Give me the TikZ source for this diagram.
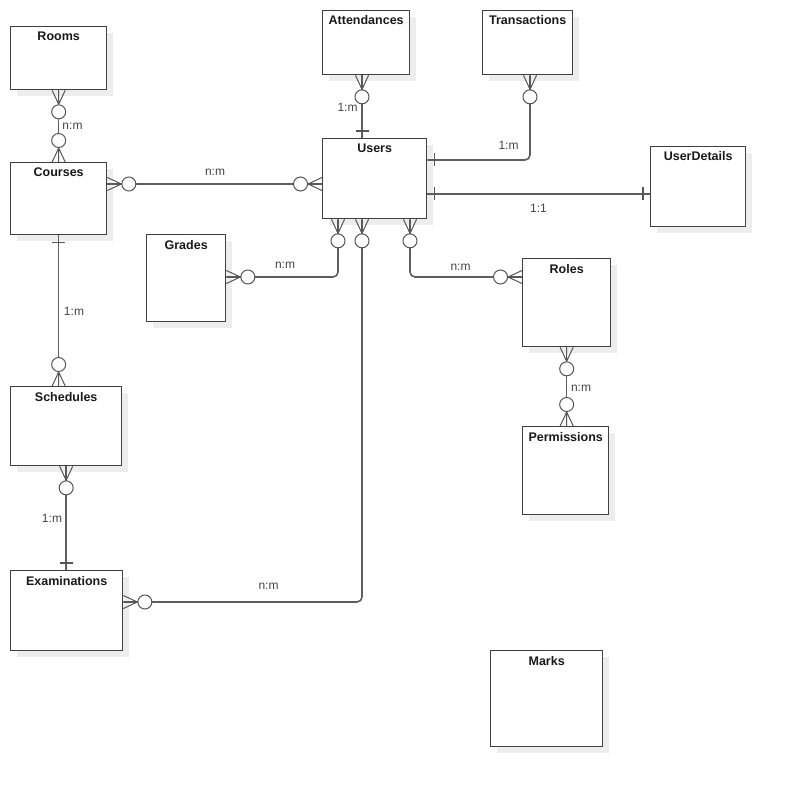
\documentclass[tikz,border=0pt]{standalone}
\usepackage{fontspec}
\setmainfont{Liberation Sans}
\usetikzlibrary{shadows,calc}
\definecolor{boxline}{HTML}{404040}
\definecolor{connline}{HTML}{5E5E5E}
\definecolor{markline}{HTML}{555555}
\definecolor{lbltext}{HTML}{444444}
\tikzset{
  entity/.style={draw=boxline, line width=1.35pt, fill=white, anchor=north west, inner sep=0pt,
    general shadow={fill=black!7, shadow xshift=6pt, shadow yshift=-6pt}},
  title/.style={anchor=base, inner sep=0pt, text=black!90, font=\fontsize{12.5}{14}\selectfont\bfseries},
  lbl/.style={anchor=base, inner sep=0pt, text=lbltext, font=\fontsize{12}{14}\selectfont},
  conn/.style={draw=connline, line width=1.6pt},
  endmark/.style={draw=markline, line width=1pt},
  crowring/.pic={
    \draw[endmark] (0,-6.5) -- (14,0) (0,0) -- (14,0) (0,6.5) -- (14,0);
    \draw[endmark, fill=white] (21.5,0) circle[radius=7pt];
  },
  onebar/.pic={\draw[endmark, line width=1.4pt] (7,-6.5) -- (7,6.5);},
}
\begin{document}
\begin{tikzpicture}[x=1pt, y=-1pt]
\useasboundingbox (0,0) rectangle (784,786);

% entities
\node[entity, minimum width=96pt, minimum height=63pt] (rooms) at (10,26) {};
\node[entity, minimum width=87pt, minimum height=64pt] (attendances) at (322,10) {};
\node[entity, minimum width=90pt, minimum height=64pt] (transactions) at (482,10) {};
\node[entity, minimum width=96pt, minimum height=72pt] (courses) at (10,162) {};
\node[entity, minimum width=104pt, minimum height=80pt] (users) at (322,138) {};
\node[entity, minimum width=95pt, minimum height=80pt] (userdetails) at (650,146) {};
\node[entity, minimum width=79pt, minimum height=87pt] (grades) at (146,234) {};
\node[entity, minimum width=88pt, minimum height=88pt] (roles) at (522,258) {};
\node[entity, minimum width=111pt, minimum height=79pt] (schedules) at (10,386) {};
\node[entity, minimum width=86pt, minimum height=88pt] (permissions) at (522,426) {};
\node[entity, minimum width=112pt, minimum height=80pt] (examinations) at (10,570) {};
\node[entity, minimum width=112pt, minimum height=96pt] (marks) at (490,650) {};

% entity titles
\foreach \n/\t in {rooms/Rooms, attendances/Attendances, transactions/Transactions,
  courses/Courses, users/Users, userdetails/UserDetails, grades/Grades, roles/Roles,
  schedules/Schedules, permissions/Permissions, examinations/Examinations, marks/Marks}
  \node[title] (\n-title) at ([yshift=-15pt]\n.north) {\t};

% connection points
\coordinate (ut)  at (users.north -| 362,0);
\coordinate (ul)  at (users.west |- 0,184);
\coordinate (ur1) at (users.east |- 0,160);
\coordinate (ur2) at (users.east |- 0,194);
\coordinate (ub1) at (users.south -| 338,0);
\coordinate (ub2) at (users.south -| 362,0);
\coordinate (ub3) at (users.south -| 410,0);
\coordinate (att) at (attendances.south -| 362,0);
\coordinate (tra) at (transactions.south -| 530,0);
\coordinate (cou) at (courses.east |- 0,184);
\coordinate (gra) at (grades.east |- 0,277);
\coordinate (rol) at (roles.west |- 0,277);
\coordinate (exa) at (examinations.east |- 0,602);
\coordinate (exn) at (schedules.south |- examinations.north);
\coordinate (sch) at (courses.south |- schedules.north);
\coordinate (usd) at (userdetails.west |- ur2);
\coordinate (per) at (roles.south |- permissions.north);

% connectors
\draw[conn] (rooms.south) -- (courses.north);
\draw[conn] (cou) -- (ul);
\draw[conn] (courses.south) -- (sch);
\draw[conn] (schedules.south) -- (exn);
\draw[conn, rounded corners=5pt] (exa) -| (ub2);
\draw[conn, rounded corners=5pt] (gra) -| (ub1);
\draw[conn, rounded corners=5pt] (ub3) |- (rol);
\draw[conn] (roles.south) -- (per);
\draw[conn] (att) -- (ut);
\draw[conn, rounded corners=5pt] (tra) |- (ur1);
\draw[conn] (ur2) -- (usd);

% line ends
\pic[rotate=-90] at (rooms.south) {crowring};
\pic[rotate=90] at (courses.north) {crowring};
\pic at (cou) {crowring};
\pic[rotate=180] at (ul) {crowring};
\pic[rotate=-90] at (courses.south) {onebar};
\pic[rotate=90] at (sch) {crowring};
\pic[rotate=-90] at (schedules.south) {crowring};
\pic[rotate=90] at (exn) {onebar};
\pic at (exa) {crowring};
\pic[rotate=-90] at (ub2) {crowring};
\pic at (gra) {crowring};
\pic[rotate=-90] at (ub1) {crowring};
\pic[rotate=-90] at (ub3) {crowring};
\pic[rotate=180] at (rol) {crowring};
\pic[rotate=-90] at (roles.south) {crowring};
\pic[rotate=90] at (per) {crowring};
\pic[rotate=-90] at (att) {crowring};
\pic[rotate=90] at (ut) {onebar};
\pic[rotate=-90] at (tra) {crowring};
\pic at (ur1) {onebar};
\pic at (ur2) {onebar};
\pic[rotate=180] at (usd) {onebar};

% cardinality labels
\node[lbl] (l-rc) at (72.5,130) {n:m};
\node[lbl] (l-cu) at (215,176) {n:m};
\node[lbl] (l-cs) at (74,315) {1:m};
\node[lbl] (l-se) at (52,522) {1:m};
\node[lbl] (l-eu) at (268.5,589) {n:m};
\node[lbl] (l-gu) at (285,268) {n:m};
\node[lbl] (l-ur) at (460.5,270) {n:m};
\node[lbl] (l-rp) at (581,391) {n:m};
\node[lbl] (l-au) at (347.5,112) {1:m};
\node[lbl] (l-tu) at (508.5,150) {1:m};
\node[lbl] (l-ud) at (538.5,213) {1:1};
\end{tikzpicture}
\end{document}
